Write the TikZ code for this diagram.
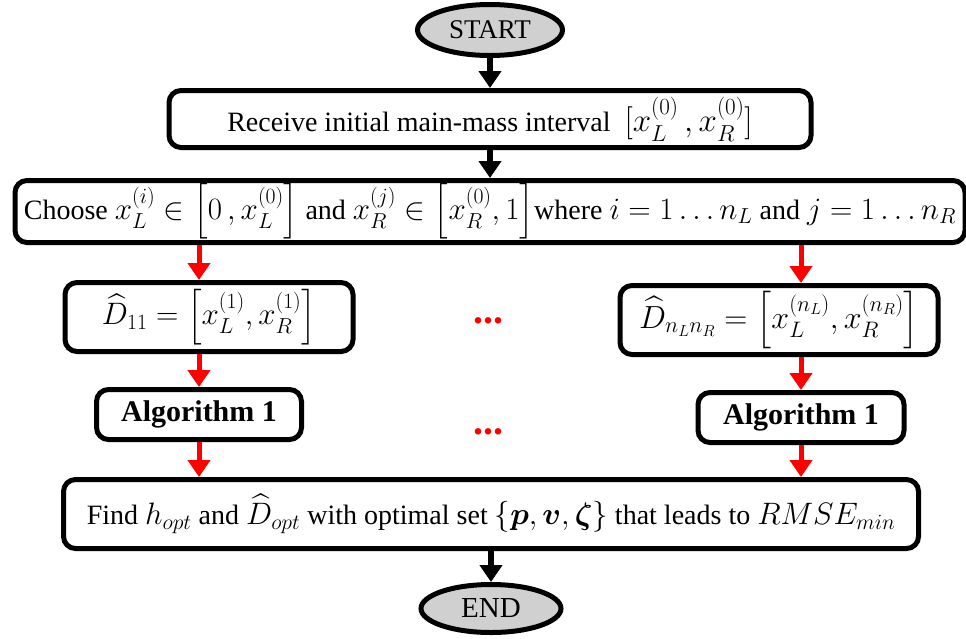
\RequirePackage{fix-cm}
\documentclass[tikz,border=0pt]{standalone}
\usepackage{amsmath,amssymb,bm}
\usepackage{fontspec}
\setmainfont{Liberation Serif}
\usetikzlibrary{arrows.meta,positioning,shapes.geometric,calc}
\definecolor{termgray}{RGB}{208,208,208}
\newcommand{\mathat}[2]{{\fontsize{#1}{#1}\selectfont$#2$}}
\tikzset{
 stepbox/.style={rectangle,rounded corners=12pt,draw=black,line width=5pt,fill=white,align=center,inner sep=2pt},
 term/.style={ellipse,draw=black,line width=5pt,fill=termgray,inner sep=0pt},
 blackarrow/.style={-{Triangle[length=17pt,width=22pt]},line width=6pt,draw=black},
 redarrow/.style={-{Triangle[length=17pt,width=22pt]},line width=5pt,draw=red},
 gapdots/.style={text=red,font=\fontsize{40}{40}\selectfont\bfseries,inner sep=0pt}}

\begin{document}
\begin{tikzpicture}[x=1pt,y=-1pt,font=\fontsize{28}{32}\selectfont]
\useasboundingbox (0,0) rectangle (966,638);
\node[term,minimum width=145pt,minimum height=51pt,font=\fontsize{27}{30}\selectfont] (start) at (490,30) {START};
\node[stepbox,below=30pt of start,minimum width=642pt,minimum height=57pt] (recv) {Receive initial main-mass interval\hspace{0.5em}\mathat{33}{[x_L^{(0)}\,,x_R^{(0)}]}};
\node[stepbox,below=28pt of recv,minimum width=950pt,minimum height=62pt,inner sep=0pt] (choose) {Choose \mathat{31}{x_L^{(i)}\in\left[0\,,x_L^{(0)}\right]} and \mathat{31}{x_R^{(j)}\in\left[x_R^{(0)},1\right]}where \mathat{31}{i=1\ldots n_L} and \mathat{31}{j=1\ldots n_R}};
\node[stepbox,below right=35pt and 50pt of choose.south west,minimum width=288pt,minimum height=69pt] (d11) {\mathat{31}{\widehat{D}_{11}=\left[x_L^{(1)},x_R^{(1)}\right]}};
\node[stepbox,below left=38pt and 27pt of choose.south east,minimum width=318pt,minimum height=69pt] (dnn) {\mathat{32}{\widehat{D}_{n_Ln_R}=\left[x_L^{(n_L)},x_R^{(n_R)}\right]}};
\node[stepbox,below=33pt of d11,xshift=-10pt,minimum width=205pt,minimum height=50pt,font=\fontsize{30}{32}\selectfont\bfseries] (alg1) {Algorithm 1};
\node[stepbox,below=33pt of dnn,xshift=22pt,minimum width=206pt,minimum height=50pt,font=\fontsize{30}{32}\selectfont\bfseries] (algn) {Algorithm 1};
\node[stepbox,below=35pt of alg1,xshift=292pt,minimum width=855pt,minimum height=69pt] (find) {Find \mathat{31}{h_{opt}} and \mathat{31}{\widehat{D}_{opt}} with optimal set \mathat{31}{\{\bm{p},\bm{v},\bm{\zeta}\}} that leads to \mathat{31}{RMSE_{min}}};
\node[term,below=31pt of find,minimum width=140pt,minimum height=48pt,font=\fontsize{29}{30}\selectfont] (finish) {END};
\node[gapdots,xshift=-6pt,yshift=-2pt] (dotsa) at ($(d11)!0.5!(dnn)$) {...};
\node[gapdots,xshift=-12pt,yshift=-16pt] (dotsb) at ($(alg1)!0.5!(algn)$) {...};
% main column
\draw[blackarrow] (start) -- (recv);
\draw[blackarrow] (recv) -- (choose);
\draw[blackarrow] (find) -- (finish);
% two branches
\draw[redarrow] (choose.south -| alg1) -- (d11.north -| alg1);
\draw[redarrow] (d11.south -| alg1) -- (alg1);
\draw[redarrow] (alg1) -- (find.north -| alg1);
\draw[redarrow] (choose.south -| algn) -- (dnn.north -| algn);
\draw[redarrow] (dnn.south -| algn) -- (algn);
\draw[redarrow] (algn) -- (find.north -| algn);
\end{tikzpicture}
\end{document}
